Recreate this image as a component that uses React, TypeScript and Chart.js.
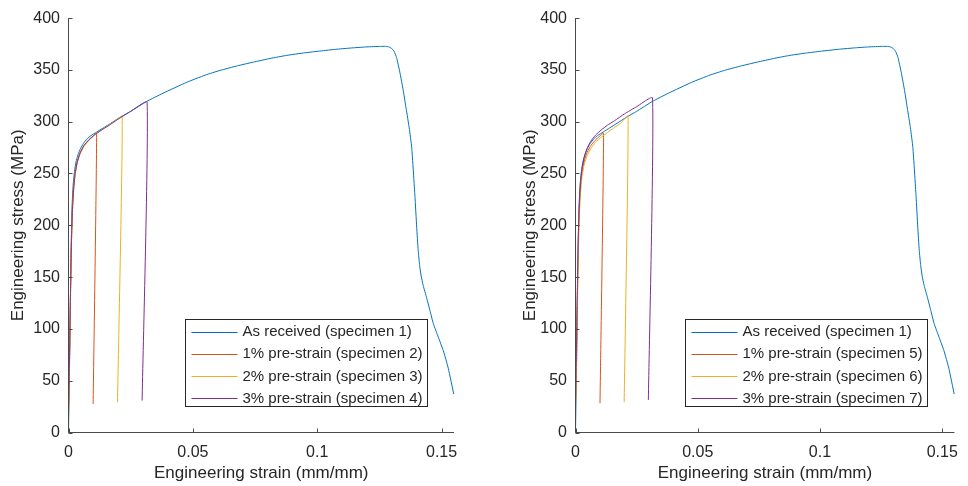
import React, { useEffect, useRef } from "react";
import { Chart, registerables } from "chart.js";

Chart.register(...registerables);

// ---------- data ----------
const xTickValues = [0, 0.05, 0.1, 0.15];
const yTickValues = [0, 50, 100, 150, 200, 250, 300, 350, 400];

const asReceivedStrain = [0, 0.0003, 0.0006, 0.0009, 0.0012, 0.0015, 0.0019, 0.0024, 0.003, 0.0038, 0.0048, 0.006, 0.0075, 0.009, 0.0113, 0.014, 0.017, 0.0206, 0.025, 0.0314, 0.038, 0.0475, 0.055, 0.0609, 0.068, 0.0743, 0.081, 0.0877, 0.095, 0.1011, 0.108, 0.1145, 0.12, 0.1255, 0.1275, 0.1288, 0.1299, 0.1309, 0.1319, 0.1332, 0.1346, 0.1358, 0.137, 0.138, 0.1393, 0.14, 0.1406, 0.1412, 0.1418, 0.1426, 0.144, 0.1453, 0.1467, 0.1487, 0.1507, 0.1527, 0.1549];
const asReceivedStress = [0, 45, 95, 150, 195, 222, 240, 252, 261, 268, 274, 279, 283.5, 286.5, 290, 294, 298.5, 304, 310, 319.5, 327.5, 338, 345, 349.5, 354, 357.5, 361, 364, 366.5, 368.2, 370, 371.3, 372.2, 372.7, 372.7, 372.2, 370.8, 368, 362, 348, 330, 312, 294, 275, 228, 198, 176, 161, 151, 142, 130, 118, 105, 92, 79, 62, 37];

// left panel
const spec2Strain = [0, 0.0004, 0.0008, 0.0011, 0.0015, 0.002, 0.0026, 0.0034, 0.0045, 0.006, 0.008, 0.0099, 0.0113, 0.0099];
const spec2Stress = [15, 70, 135, 180, 215, 236, 250, 260, 269, 276, 282, 286, 288.7, 27.6];
const spec3Strain = [0, 0, 0.0004, 0.0008, 0.0012, 0.0016, 0.0021, 0.0027, 0.0035, 0.0047, 0.0062, 0.0082, 0.0105, 0.013, 0.016, 0.0185, 0.0216, 0.0197];
const spec3Stress = [9, 18, 65, 128, 180, 212, 234, 249, 260, 269, 276, 282, 287, 291.5, 296.5, 300.5, 305.4, 29.2];
const spec4Strain = [0, 0.0004, 0.0008, 0.0012, 0.0016, 0.0021, 0.0027, 0.0035, 0.0047, 0.0062, 0.0082, 0.0105, 0.013, 0.016, 0.02, 0.025, 0.0316, 0.0296];
const spec4Stress = [20, 72, 135, 185, 215, 236, 250, 261, 270, 277, 282.5, 287.5, 291.5, 296, 302.5, 310, 319, 30.8];

// right panel
const spec5Strain = [0, 0.0004, 0.0008, 0.0011, 0.0015, 0.002, 0.0026, 0.0034, 0.0045, 0.006, 0.008, 0.0099, 0.01147, 0.01002];
const spec5Stress = [25, 75, 138, 182, 215, 236, 250, 260, 269, 276, 282, 286, 288.7, 28.2];
const spec6Strain = [0, 0.0004, 0.0008, 0.0012, 0.0016, 0.0021, 0.0027, 0.0035, 0.0047, 0.0062, 0.0082, 0.0105, 0.013, 0.016, 0.0185, 0.0215, 0.0199];
const spec6Stress = [20, 62, 125, 177, 210, 232, 247, 258, 267, 274, 280, 285, 289.5, 294.5, 298.5, 305.5, 29.2];
const spec7Strain = [0, 0.0004, 0.0008, 0.0012, 0.0016, 0.0021, 0.0027, 0.0035, 0.0047, 0.0062, 0.0082, 0.0105, 0.013, 0.016, 0.02, 0.025, 0.0315, 0.0298];
const spec7Stress = [30, 80, 145, 192, 222, 242, 255, 265, 274, 281, 287, 292, 296.5, 301, 307.5, 314.5, 323, 31.5];

const leftLabels = ["As received (specimen 1)", "1% pre-strain (specimen 2)", "2% pre-strain (specimen 3)", "3% pre-strain (specimen 4)"];
const rightLabels = ["As received (specimen 1)", "1% pre-strain (specimen 5)", "2% pre-strain (specimen 6)", "3% pre-strain (specimen 7)"];
const seriesColors = ["#0072BD", "#D95319", "#EDB120", "#7E2F8E"];

const xTitle = "Engineering strain (mm/mm)";
const yTitle = "Engineering stress (MPa)";

// ---------- helpers ----------
const FONT = "'Liberation Sans', Arial, Helvetica, sans-serif";
const TEXT = "#262626";
const AXIS = "#4a4a4a";

function pts(xs: number[], ys: number[]) {
  return xs.map((x, i) => ({ x, y: ys[i] }));
}

interface PanelCfg {
  labels: string[];
  data: { x: number; y: number }[][];
  yWidth: number;
  padRight: number;
  yTitlePad: number;
  legend: { x: number; y: number; w: number; h: number };
}

function makeAxesPlugin(cfg: PanelCfg) {
  return {
    id: "matlabAxes",
    afterDraw(chart: any) {
      const ctx = chart.ctx as CanvasRenderingContext2D;
      const { left, right, top, bottom } = chart.chartArea;
      const xs = chart.scales.x;
      const ys = chart.scales.y;
      ctx.save();
      ctx.strokeStyle = AXIS;
      ctx.lineWidth = 1;
      ctx.beginPath();
      ctx.moveTo(left, top);
      ctx.lineTo(left, bottom);
      ctx.lineTo(right, bottom);
      for (const v of yTickValues) {
        const p = Math.round(ys.getPixelForValue(v)) + 0.5;
        ctx.moveTo(left, p);
        ctx.lineTo(left + 4, p);
      }
      for (const v of xTickValues) {
        const p = Math.round(xs.getPixelForValue(v)) + 0.5;
        ctx.moveTo(p, bottom);
        ctx.lineTo(p, bottom - 4);
      }
      ctx.stroke();

      // legend
      const L = cfg.legend;
      ctx.fillStyle = "#ffffff";
      ctx.fillRect(L.x, L.y, L.w, L.h);
      ctx.strokeStyle = "#262626";
      ctx.strokeRect(L.x, L.y, L.w, L.h);
      ctx.font = "15px " + FONT;
      ctx.textBaseline = "middle";
      ctx.textAlign = "left";
      const rowH = 22.3;
      cfg.labels.forEach((lab, i) => {
        const cy = L.y + 12 + i * rowH;
        ctx.strokeStyle = seriesColors[i];
        ctx.beginPath();
        ctx.moveTo(L.x + 6, Math.round(cy) + 0.5);
        ctx.lineTo(L.x + 52, Math.round(cy) + 0.5);
        ctx.stroke();
        ctx.fillStyle = TEXT;
        ctx.fillText(lab, L.x + 57, cy + 0.5);
      });
      ctx.restore();
    },
  };
}

function Panel({ cfg, offset }: { cfg: PanelCfg; offset: number }) {
  const ref = useRef<HTMLCanvasElement | null>(null);
  useEffect(() => {
    if (!ref.current) return;
    const datasets = cfg.data.map((d, i) => ({
      label: cfg.labels[i],
      data: d,
      showLine: true,
      borderColor: seriesColors[i],
      backgroundColor: seriesColors[i],
      borderWidth: 1,
      pointRadius: 0,
      tension: 0.15,
      fill: false,
      clip: 3,
      order: 4 - i,
    }));
    const chart = new Chart(ref.current, {
      type: "scatter",
      data: { datasets },
      options: {
        animation: false,
        responsive: false,
        devicePixelRatio: 1,
        layout: { padding: { left: 0, top: 16.5, right: cfg.padRight, bottom: 0 } },
        plugins: { legend: { display: false }, tooltip: { enabled: false } },
        scales: {
          x: {
            type: "linear",
            min: 0,
            max: 0.155,
            afterFit: (s: any) => { s.height = 53.5; },
            afterBuildTicks: (s: any) => { s.ticks = xTickValues.map((v) => ({ value: v })); },
            grid: { display: false, drawTicks: false },
            border: { display: false },
            ticks: {
              autoSkip: false,
              maxRotation: 0,
              padding: 10,
              color: TEXT,
              font: { family: FONT, size: 16 },
              callback: (v: any) => String(v),
            },
            title: {
              display: true,
              text: xTitle,
              color: TEXT,
              font: { family: FONT, size: 17 },
              padding: { top: 0, bottom: 2.8 },
            },
          },
          y: {
            type: "linear",
            min: 0,
            max: 400,
            afterFit: (s: any) => { s.width = cfg.yWidth; },
            afterBuildTicks: (s: any) => { s.ticks = yTickValues.map((v) => ({ value: v })); },
            grid: { display: false, drawTicks: false },
            border: { display: false },
            ticks: {
              autoSkip: false,
              padding: 8.5,
              color: TEXT,
              font: { family: FONT, size: 16 },
              callback: (v: any) => String(v),
            },
            title: {
              display: true,
              text: yTitle,
              color: TEXT,
              font: { family: FONT, size: 17 },
              padding: { top: cfg.yTitlePad, bottom: 0 },
            },
          },
        },
      },
      plugins: [makeAxesPlugin(cfg)],
    } as any);
    return () => chart.destroy();
  }, [cfg]);
  return (
    <canvas
      ref={ref}
      width={484}
      height={486}
      style={{ position: "absolute", left: offset, top: 0, width: 484, height: 486, display: "block" }}
    />
  );
}

const leftCfg: PanelCfg = {
  labels: leftLabels,
  data: [
    pts(asReceivedStrain, asReceivedStress),
    pts(spec2Strain, spec2Stress),
    pts(spec3Strain, spec3Stress),
    pts(spec4Strain, spec4Stress),
  ],
  yWidth: 68.5,
  padRight: 30,
  yTitlePad: 8.1,
  legend: { x: 185.5, y: 319.5, w: 242, h: 87 },
};

const rightCfg: PanelCfg = {
  labels: rightLabels,
  data: [
    pts(asReceivedStrain, asReceivedStress),
    pts(spec5Strain, spec5Stress),
    pts(spec6Strain, spec6Stress),
    pts(spec7Strain, spec7Stress),
  ],
  yWidth: 91.5,
  padRight: 6.3,
  yTitlePad: 35.8,
  legend: { x: 201.5, y: 319.5, w: 242, h: 87 },
};

export default function App() {
  return (
    <div style={{ position: "fixed", left: 0, top: 0, width: 968, height: 486, background: "#ffffff" }}>
      <Panel cfg={leftCfg} offset={0} />
      <Panel cfg={rightCfg} offset={484} />
    </div>
  );
}
